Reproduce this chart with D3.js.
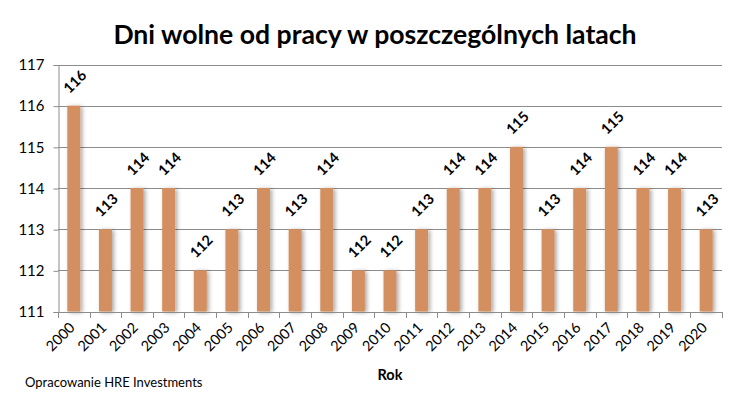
<!DOCTYPE html>
<html lang="pl">
<head>
<meta charset="UTF-8">
<title>Dni wolne od pracy</title>
<script src="https://d3js.org/d3.v7.min.js"></script>
<style>
  body { margin: 0; background: #fff; }
  text { font-family: Lato, "Open Sans", sans-serif; }
</style>
</head>
<body>
<script>
  // dane
  var years = ["2000","2001","2002","2003","2004","2005","2006","2007","2008","2009","2010",
               "2011","2012","2013","2014","2015","2016","2017","2018","2019","2020"];
  var daysOff = [116,113,114,114,112,113,114,113,114,112,112,113,114,114,115,113,114,115,114,114,113];
  var yTicks = [111,112,113,114,115,116,117];

  var width = 746, height = 399;
  var plotLeft = 58, plotRight = 722, plotTop = 64.5, plotBottom = 311.5;

  var svg = d3.select("body").append("svg").attr("width", width).attr("height", height);

  var defs = svg.append("defs");
  var f = defs.append("filter").attr("id", "shadow").attr("x", "-50%").attr("y", "-10%")
    .attr("width", "200%").attr("height", "120%");
  f.append("feDropShadow").attr("dx", 2).attr("dy", 1).attr("stdDeviation", 2.2)
    .attr("flood-color", "#000").attr("flood-opacity", 0.35);

  var x = d3.scaleBand().domain(years).range([plotLeft, plotRight]).paddingInner(0.59).paddingOuter(0.295);
  var y = d3.scaleLinear().domain([111, 117]).range([plotBottom, plotTop]);

  // tytuł
  svg.append("text").attr("x", 375).attr("y", 44).attr("text-anchor", "middle")
    .style("font-size", "26.6px").style("font-weight", "bold").text("Dni wolne od pracy w poszczególnych latach");

  // siatka
  svg.append("g").selectAll("line").data(yTicks).enter().append("line")
    .attr("x1", plotLeft).attr("x2", plotRight)
    .attr("y1", function(d) { return Math.round(y(d)) + 0.5; })
    .attr("y2", function(d) { return Math.round(y(d)) + 0.5; })
    .attr("stroke", "#8c8c8c").attr("stroke-width", 1);

  // oś Y
  var yAxis = svg.append("g").attr("transform", "translate(" + (plotLeft + 0.5) + ",0.5)")
    .call(d3.axisLeft(y).tickValues(yTicks).tickSize(5).tickPadding(9).tickFormat(d3.format("d")));
  yAxis.select(".domain").attr("stroke", "#8c8c8c");
  yAxis.selectAll(".tick line").attr("stroke", "#8c8c8c");
  yAxis.selectAll("text").style("font-size", "15px").attr("fill", "#000");

  // słupki
  svg.append("g").selectAll("rect").data(daysOff).enter().append("rect")
    .attr("x", function(d, i) { return x(years[i]); })
    .attr("y", function(d) { return y(d); })
    .attr("width", x.bandwidth())
    .attr("height", function(d) { return y(111) - y(d); })
    .attr("fill", "#d38f5f")
    .attr("filter", "url(#shadow)");

  // oś X
  var step = x.step();
  var xg = svg.append("g");
  xg.append("line").attr("x1", plotLeft).attr("x2", plotRight)
    .attr("y1", Math.round(plotBottom) + 0.5).attr("y2", Math.round(plotBottom) + 0.5).attr("stroke", "#8c8c8c");
  xg.selectAll("line.tk").data(d3.range(years.length + 1)).enter().append("line").attr("class", "tk")
    .attr("x1", function(i) { return Math.round(plotLeft + i * step) + 0.5; })
    .attr("x2", function(i) { return Math.round(plotLeft + i * step) + 0.5; })
    .attr("y1", Math.round(plotBottom)).attr("y2", Math.round(plotBottom) + 6)
    .attr("stroke", "#8c8c8c");
  xg.selectAll("text").data(years).enter().append("text")
    .attr("transform", function(d) {
      return "translate(" + (x(d) + x.bandwidth() / 2 + 2) + "," + (plotBottom + 17) + ") rotate(-45)";
    })
    .attr("text-anchor", "end")
    .style("font-size", "14.5px").text(function(d) { return d; });

  // etykiety wartości
  svg.append("g").selectAll("text").data(daysOff).enter().append("text")
    .attr("transform", function(d, i) {
      return "translate(" + (x(years[i]) + x.bandwidth() / 2 + 1) + "," + (y(d) - 24) + ") rotate(-45)";
    })
    .attr("text-anchor", "middle").attr("dy", "0.35em")
    .style("font-size", "14.5px").style("font-weight", "bold")
    .text(function(d) { return d; });

  // podpisy
  svg.append("text").attr("x", 390).attr("y", 380).attr("text-anchor", "middle")
    .style("font-size", "14.5px").style("font-weight", "bold").text("Rok");
  svg.append("text").attr("x", 25).attr("y", 387)
    .style("font-size", "13px").text("Opracowanie HRE Investments");
</script>
</body>
</html>
